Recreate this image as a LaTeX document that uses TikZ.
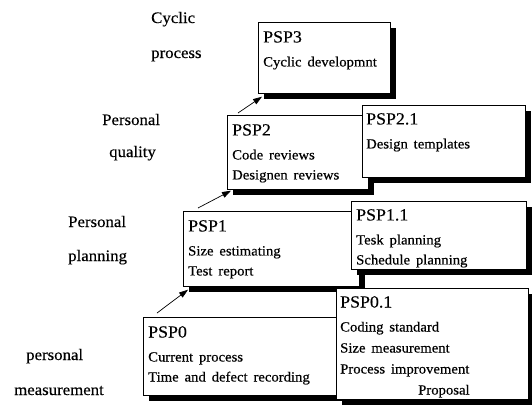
\documentclass[tikz,border=0pt]{standalone}
\usepackage{fontspec}
\setmainfont{Liberation Serif}[FakeStretch=1.05,WordSpace=1.6,FakeBold=0.4]
\usetikzlibrary{arrows.meta,shadows}

\newcommand{\psphead}[1]{{\fontsize{17}{18}\selectfont #1}}

\tikzset{
  box/.style={draw, line width=0.7pt, fill=white, anchor=north west, inner sep=0pt,
    drop shadow={shadow xshift=6pt,shadow yshift=-6pt,fill=black,opacity=1}},
  boxtext/.style={anchor=north west, align=left, inner sep=0pt,
    font=\fontsize{14}{20}\selectfont},
  side/.style={anchor=base west, inner sep=0pt, font=\fontsize{16}{18}\selectfont},
  up/.style={-{Triangle[length=9pt,width=6pt]}, line width=0.7pt},
}

\begin{document}
\begin{tikzpicture}[x=1pt,y=-1pt]
\useasboundingbox (0,0) rectangle (532,407);

%% levels on the left
\node[side] (cyc1) at (151,23) {Cyclic};
\node[side] (cyc2) at (151,58) {process};
\node[side] (qua1) at (102,125) {Personal};
\node[side] (qua2) at (109,157) {quality};
\node[side] (pla1) at (68,227) {Personal};
\node[side] (pla2) at (68,261) {planning};
\node[side] (mea1) at (26,360) {personal};
\node[side] (mea2) at (14,395) {measurement};

%% PSP3
\node[box, minimum width=132pt, minimum height=71pt] (psp3) at (258,22) {};
\node[boxtext] (psp3txt) at ([xshift=5pt,yshift=-9pt]psp3.north west)
  {\psphead{PSP3}\\[4pt] Cyclic developmnt};

%% PSP2
\node[box, minimum width=141pt, minimum height=74pt] (psp2) at (227,115) {};
\node[boxtext] (psp2txt) at ([xshift=5pt,yshift=-9pt]psp2.north west)
  {\psphead{PSP2}\\[4pt] Code reviews\\ Designen reviews};
\node[box, minimum width=163pt, minimum height=72pt] (psp21) at (362,105) {};
\node[boxtext] (psp21txt) at ([xshift=4pt,yshift=-8pt]psp21.north west)
  {\psphead{PSP2.1}\\[4pt] Design templates};

%% PSP1
\node[box, minimum width=176pt, minimum height=75pt] (psp1) at (183,211) {};
\node[boxtext] (psp1txt) at ([xshift=5pt,yshift=-9pt]psp1.north west)
  {\psphead{PSP1}\\[4pt] Size estimating\\ Test report};
\node[box, minimum width=175pt, minimum height=68pt] (psp11) at (351,201) {};
\node[boxtext] (psp11txt) at ([xshift=5pt,yshift=-8pt]psp11.north west)
  {\psphead{PSP1.1}\\[4pt] Tesk planning\\ Schedule planning};

%% PSP0
\node[box, minimum width=193pt, minimum height=78pt] (psp0) at (143,317) {};
\node[boxtext] (psp0txt) at ([xshift=5pt,yshift=-9pt]psp0.north west)
  {\psphead{PSP0}\\[4pt] Current process\\ Time and defect recording};
\node[box, minimum width=192pt, minimum height=111pt] (psp01) at (336,288) {};
\node[boxtext, font=\fontsize{14}{21}\selectfont] (psp01txt)
  at ([xshift=4pt,yshift=-8pt]psp01.north west)
  {\psphead{PSP0.1}\\[3pt] Coding standard\\ Size measurement\\ Process improvement\\
   \hspace*{78pt}Proposal};

%% steps up
\draw[up] ([xshift=14pt,yshift=4pt]psp0.north west) -- ([xshift=5pt,yshift=-3pt]psp1.south west);
\draw[up] ([xshift=15pt,yshift=3pt]psp1.north west) -- ([xshift=4pt,yshift=-1pt]psp2.south west);
\draw[up] ([xshift=11pt,yshift=2pt]psp2.north west) -- ([xshift=4pt,yshift=-3pt]psp3.south west);
\end{tikzpicture}
\end{document}
